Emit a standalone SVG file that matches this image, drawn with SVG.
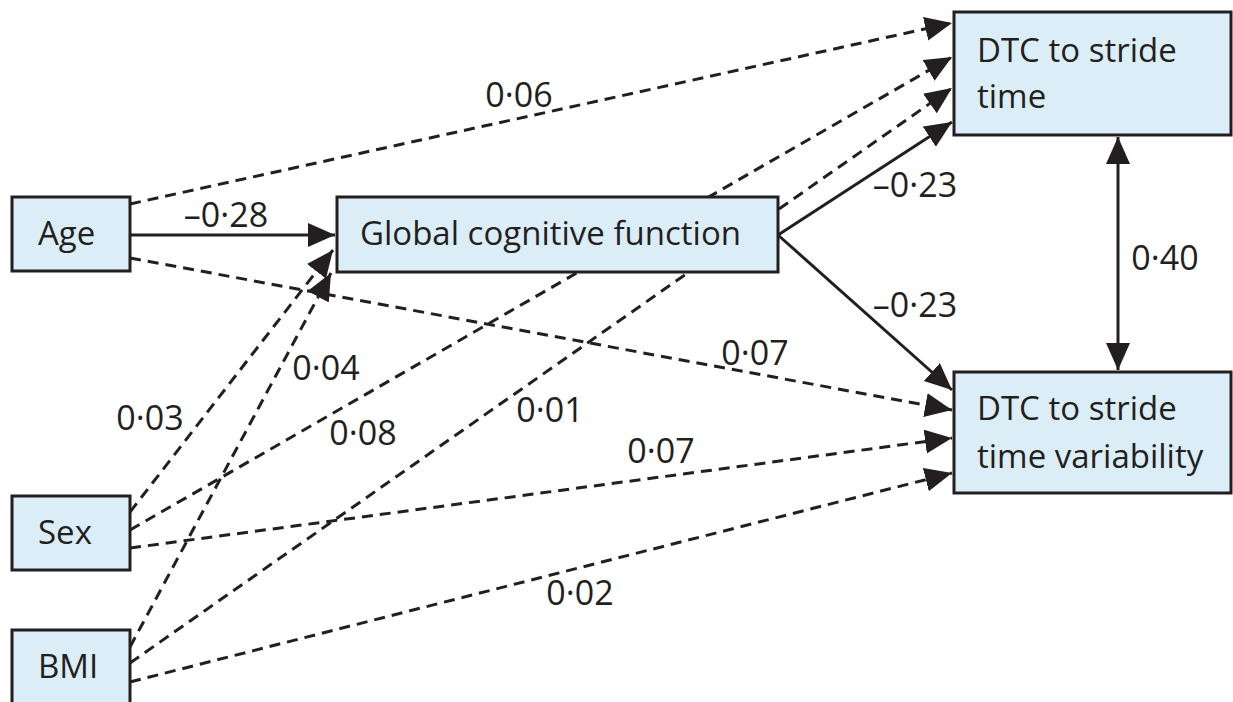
<svg xmlns="http://www.w3.org/2000/svg" width="1233" height="702" viewBox="0 0 1233 702">
<style>
.bg{fill:#ffffff}
.box{fill:#dbeef7;stroke:#231f20;stroke-width:3}
.t{font-family:"Open Sans","Noto Sans","Liberation Sans",sans-serif;font-size:33px;fill:#231f20}
.lbl{font-family:"Open Sans","Noto Sans","Liberation Sans",sans-serif;font-size:34px;fill:#231f20;text-anchor:middle}
.solid{stroke:#231f20;stroke-width:3;fill:none;marker-end:url(#ah)}
.dash{stroke:#231f20;stroke-width:3;fill:none;stroke-dasharray:11 7;marker-end:url(#ah)}
</style>
<defs>
<marker id="ah" markerUnits="userSpaceOnUse" markerWidth="30" markerHeight="26" refX="27" refY="12" orient="auto">
<path d="M0,0 L27,12 L0,24 Z" fill="#231f20" stroke="none"/>
</marker>
<marker id="ahs" markerUnits="userSpaceOnUse" markerWidth="30" markerHeight="26" refX="27" refY="12" orient="auto-start-reverse">
<path d="M0,0 L27,12 L0,24 Z" fill="#231f20" stroke="none"/>
</marker>
</defs>
<rect class="bg" x="0" y="0" width="1233" height="702"/>
<g id="connectors">
<line class="solid" x1="130" y1="235" x2="335" y2="235"/>
<line class="dash" x1="130" y1="204" x2="952" y2="23"/>
<line class="dash" x1="130" y1="258" x2="952" y2="410"/>
<line class="dash" x1="130" y1="512" x2="333" y2="250"/>
<line class="dash" x1="130" y1="530" x2="952" y2="57"/>
<line class="dash" x1="130" y1="548" x2="952" y2="438"/>
<line class="dash" x1="130" y1="647" x2="331" y2="273"/>
<line class="dash" x1="130" y1="663" x2="952" y2="88"/>
<line class="dash" x1="130" y1="682" x2="952" y2="473"/>
<line class="solid" x1="778" y1="235" x2="952" y2="122"/>
<line class="solid" x1="778" y1="235" x2="952" y2="390"/>
<line x1="1118" y1="137" x2="1118" y2="370" stroke="#231f20" stroke-width="3" marker-start="url(#ahs)" marker-end="url(#ah)"/>
</g>
<g id="labels">
<text class="lbl" x="519" y="107">0·06</text>
<text class="lbl" x="226" y="227">–0·28</text>
<text class="lbl" x="915" y="197">–0·23</text>
<text class="lbl" x="915" y="317">–0·23</text>
<text class="lbl" x="1165" y="270">0·40</text>
<text class="lbl" x="755" y="365">0·07</text>
<text class="lbl" x="326" y="380">0·04</text>
<text class="lbl" x="150" y="430">0·03</text>
<text class="lbl" x="550" y="422">0·01</text>
<text class="lbl" x="363" y="445">0·08</text>
<text class="lbl" x="661" y="463">0·07</text>
<text class="lbl" x="580" y="605">0·02</text>
</g>
<g id="node-age">
<rect class="box" x="12" y="197" width="118" height="74"/>
<text class="t" x="38" y="245">Age</text>
</g>
<g id="node-sex">
<rect class="box" x="12" y="496" width="118" height="74"/>
<text class="t" x="38" y="544">Sex</text>
</g>
<g id="node-bmi">
<rect class="box" x="12" y="630" width="118" height="80"/>
<text class="t" x="38" y="678">BMI</text>
</g>
<g id="node-global">
<rect class="box" x="337" y="197" width="441" height="75"/>
<text class="t" x="360" y="245">Global cognitive function</text>
</g>
<g id="node-stride">
<rect class="box" x="954" y="12" width="277" height="123"/>
<text class="t" x="977" y="62">DTC to stride</text>
<text class="t" x="977" y="108">time</text>
</g>
<g id="node-variability">
<rect class="box" x="954" y="372" width="277" height="121"/>
<text class="t" x="977" y="420">DTC to stride</text>
<text class="t" x="977" y="468">time variability</text>
</g>
</svg>
